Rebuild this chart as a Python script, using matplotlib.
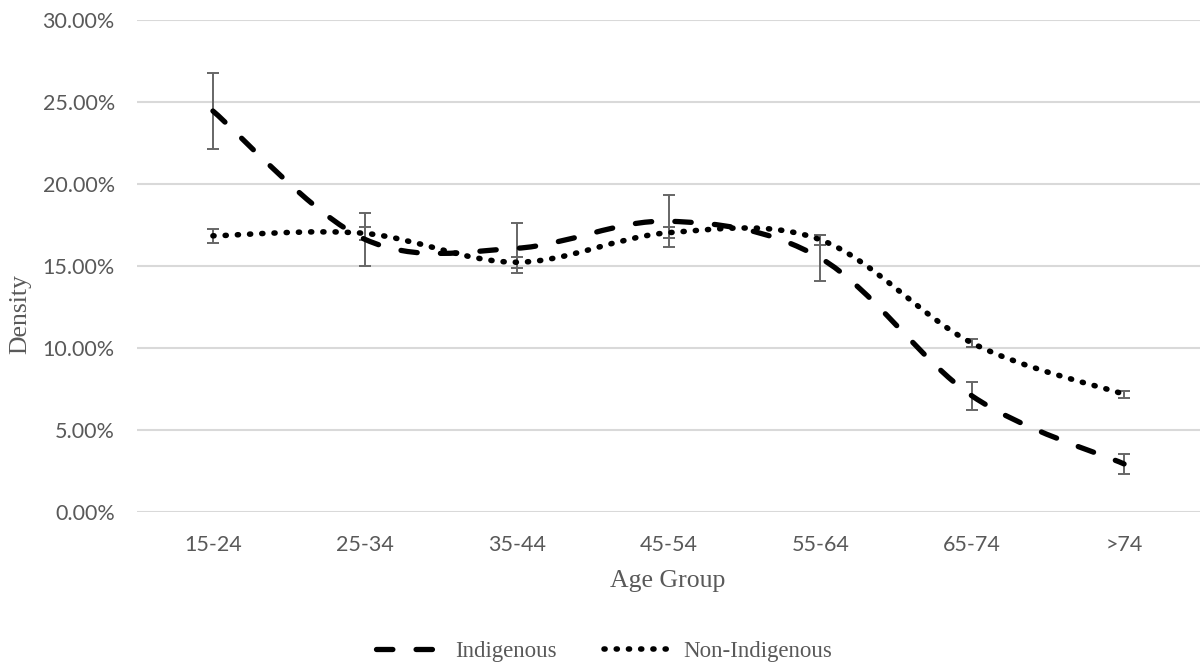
import matplotlib
matplotlib.use("Agg")
import matplotlib.pyplot as plt
from matplotlib.path import Path
from matplotlib.patches import PathPatch
from matplotlib.lines import Line2D
from matplotlib.ticker import FuncFormatter
import numpy as np

categories = ['15-24', '25-34', '35-44', '45-54', '55-64', '65-74', '>74']
indigenous = [24.42, 16.60, 16.05, 17.70, 15.45, 7.04, 2.90]
indigenous_err = [2.31, 1.60, 1.52, 1.58, 1.40, 0.87, 0.60]
non_indigenous = [16.81, 16.96, 15.20, 17.00, 16.57, 10.27, 7.15]
non_indigenous_err = [0.42, 0.41, 0.34, 0.34, 0.29, 0.22, 0.20]
y_ticks = [0, 5, 10, 15, 20, 25, 30]

GRAY = '#595959'
GRID = '#d9d9d9'
SERIF = 'Liberation Serif'
SANS = 'Lato'

fig = plt.figure(figsize=(12.04, 6.65), dpi=100)
ax = fig.add_axes([137/1204, 1 - 511.5/665, (1200-137)/1204, (511.5-19.5)/665])

x = np.arange(len(categories))


def smooth_path(xs, ys):
    pts = np.column_stack([xs, ys]).astype(float)
    n = len(pts)
    verts = [pts[0]]
    codes = [Path.MOVETO]
    for i in range(n - 1):
        p0 = pts[i - 1] if i > 0 else pts[i]
        p1 = pts[i]
        p2 = pts[i + 1]
        p3 = pts[i + 2] if i + 2 < n else pts[i + 1]
        c1 = p1 + (p2 - p0) / 6.0
        c2 = p2 - (p3 - p1) / 6.0
        verts += [c1, c2, p2]
        codes += [Path.CURVE4] * 3
    return Path(verts, codes)


# error bars
ax.errorbar(x, indigenous, yerr=indigenous_err, fmt='none', ecolor='#666666',
            elinewidth=1.4, capsize=4, capthick=1.4, zorder=2)
ax.errorbar(x, non_indigenous, yerr=non_indigenous_err, fmt='none', ecolor='#666666',
            elinewidth=1.4, capsize=4, capthick=1.4, zorder=2)

DASH_LW = 3.8
DOT_LW = 4.0
dash_style = (0, (3.1, 4.4))
dot_style = (0, (0.2, 2.0))

p1 = PathPatch(smooth_path(x, indigenous), fill=False, edgecolor='black',
               linewidth=DASH_LW, linestyle=dash_style, capstyle='round', zorder=3)
p2 = PathPatch(smooth_path(x, non_indigenous), fill=False, edgecolor='black',
               linewidth=DOT_LW, linestyle=dot_style, capstyle='round', zorder=3)
ax.add_patch(p1)
ax.add_patch(p2)

ax.set_xlim(-0.5, len(categories) - 0.5)
ax.set_ylim(0, 30)
ax.set_yticks(y_ticks)
ax.yaxis.set_major_formatter(FuncFormatter(lambda v, p: f"{v:.2f}%"))
ax.set_xticks(x)
ax.set_xticklabels(categories)

for s in ax.spines.values():
    s.set_visible(False)
ax.grid(axis='y', color=GRID, linewidth=1.5, zorder=0)
ax.set_axisbelow(True)
ax.tick_params(axis='both', length=0, colors=GRAY, labelsize=15.5)
ax.tick_params(axis='x', pad=17)
ax.tick_params(axis='y', pad=16)
for lbl in ax.get_xticklabels() + ax.get_yticklabels():
    lbl.set_fontfamily(SANS)

fig.text(668/1204, 1 - 581/665, 'Age Group', ha='center', va='center',
         fontfamily=SERIF, fontsize=18.5, color=GRAY)
fig.text(20/1204, 1 - 314/665, 'Density', ha='center', va='center', rotation=90,
         fontfamily=SERIF, fontsize=18.5, color=GRAY)

handles = [
    Line2D([], [], color='black', linewidth=DASH_LW, linestyle=dash_style,
           dash_capstyle='round', solid_capstyle='round'),
    Line2D([], [], color='black', linewidth=DOT_LW, linestyle=dot_style,
           dash_capstyle='round', solid_capstyle='round'),
]
leg = fig.legend(handles, ['Indigenous', 'Non-Indigenous'], loc='center',
                 bbox_to_anchor=(604/1204, 1 - 651/665), ncol=2, frameon=False,
                 prop={'family': SERIF, 'size': 16.5}, handlelength=2.85,
                 handletextpad=0.57, columnspacing=2.1)
for t in leg.get_texts():
    t.set_color(GRAY)

fig.savefig('out.png', dpi=100)
